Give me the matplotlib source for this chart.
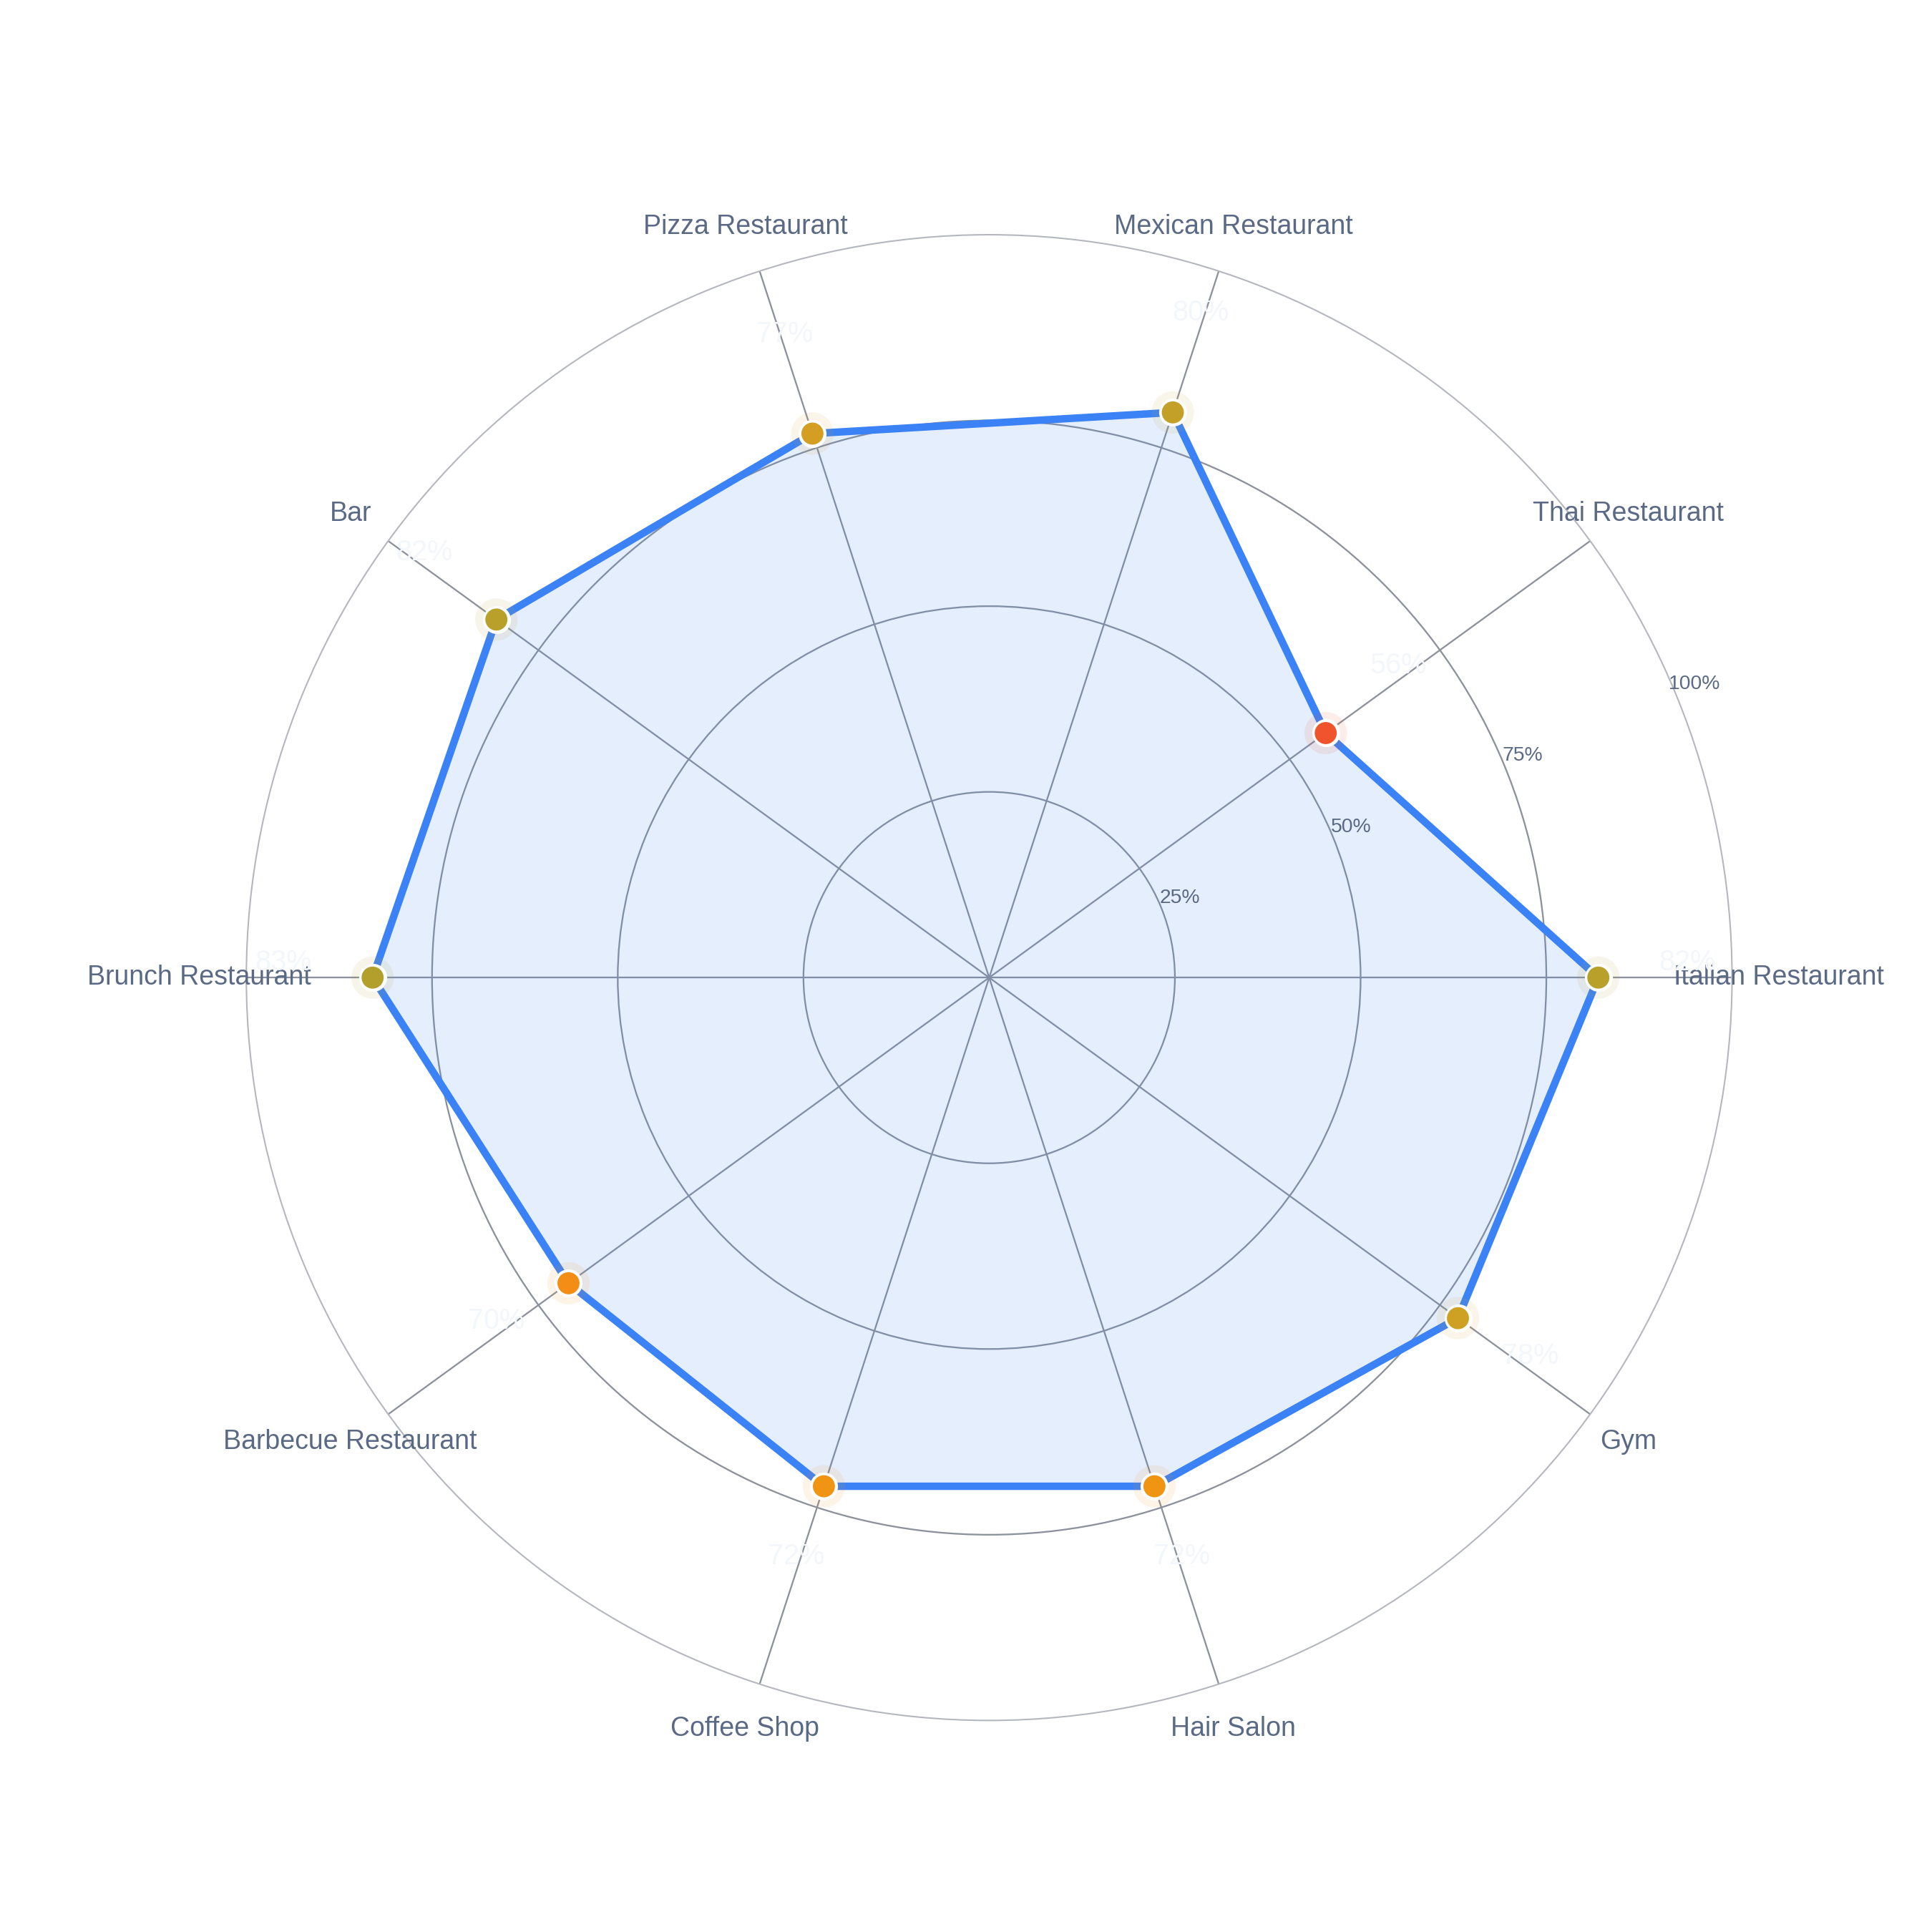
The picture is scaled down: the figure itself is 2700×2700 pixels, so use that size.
import numpy as np
import matplotlib
matplotlib.use('Agg')
import matplotlib.pyplot as plt
from matplotlib.colors import LinearSegmentedColormap, Normalize

categories = ["Italian Restaurant", "Thai Restaurant", "Mexican Restaurant", "Pizza Restaurant",
              "Bar", "Brunch Restaurant", "Barbecue Restaurant", "Coffee Shop", "Hair Salon", "Gym"]
values = [82, 56, 80, 77, 82, 83, 70, 72, 72, 78]
radial_ticks = [25, 50, 75, 100]
radial_tick_labels = ["25%", "50%", "75%", "100%"]

plt.rcParams['font.family'] = ['Liberation Sans', 'DejaVu Sans']

fig = plt.figure(figsize=(9, 9), dpi=300, facecolor='white')
ax = fig.add_axes([0.1275, 0.1095, 0.769, 0.769], projection='polar')
ax.set_facecolor('white')

n = len(categories)
theta = np.linspace(0, 2 * np.pi, n, endpoint=False)
ax.set_ylim(0, 100)
ax.set_xticks(theta)
ax.set_xticklabels([])
ax.set_yticks([25, 50, 75])
ax.set_yticklabels([])
ax.tick_params(length=0, pad=0)
ax.grid(True, color='#8c919b', linewidth=0.55)
ax.spines['polar'].set_color('#b4b7bd')
ax.spines['polar'].set_linewidth(0.5)

# colour scale for markers
cmap = LinearSegmentedColormap.from_list(
    'score', [(0.0, '#f0502f'), (0.55, '#f39313'), (0.8, '#c9a227'), (1.0, '#a89f2e')])
norm = Normalize(vmin=55, vmax=85)
colors = [cmap(norm(v)) for v in values]
halo = [(c[0], c[1], c[2], 0.10) for c in colors]

tc = np.concatenate([theta, theta[:1]])
vc = np.concatenate([values, values[:1]])
ax.fill(tc, vc, color='#3b82f6', alpha=0.13, zorder=2, linewidth=0)
ax.plot(tc, vc, color='#3b82f6', linewidth=2.5, zorder=3, solid_joinstyle='round')

ax.scatter(theta, values, s=14.2 ** 2, c=halo, linewidths=0, zorder=4)
ax.scatter(theta, values, s=9.4 ** 2, c='white', linewidths=0, zorder=5)
ax.scatter(theta, values, s=7.4 ** 2, c=colors, linewidths=0, zorder=6)

# category labels
for t, c in zip(theta, categories):
    ax.text(t, 106.3, c, ha='center', va='center', fontsize=9, color='#5a6a85', zorder=7)

# value labels (drawn over the category labels, as in the reference)
for t, v in zip(theta, values):
    ax.annotate(f"{v}%", xy=(t, v + 12), xytext=(0, 5), textcoords='offset points',
                ha='center', va='center', color='#f3f6fa', fontsize=9.5, zorder=9)

# radial tick labels
for r, lab in zip(radial_ticks, radial_tick_labels):
    ax.text(np.deg2rad(22.6), r + 2.8, lab, ha='center', va='center', fontsize=6.8,
            color='#5a6a85', zorder=8)

fig.savefig('out.png', dpi=300, facecolor='white')
